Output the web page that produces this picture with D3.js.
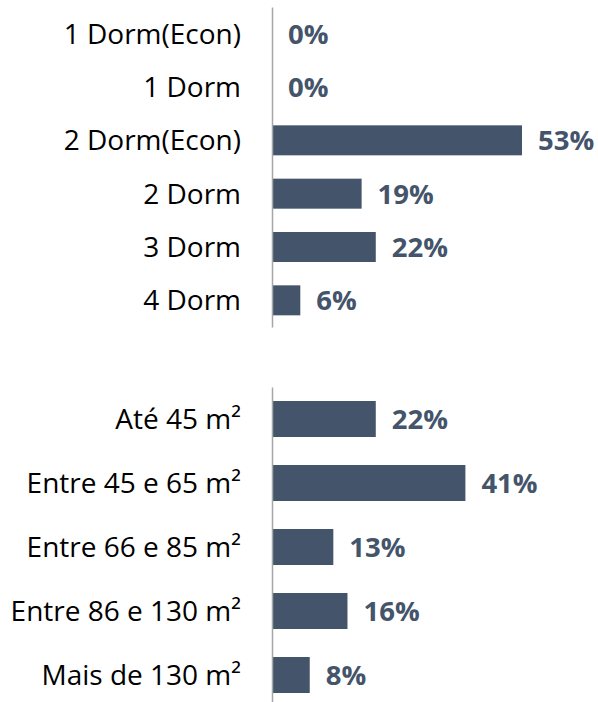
<!DOCTYPE html>
<html>
<head>
<meta charset="utf-8">
<script src="https://cdn.jsdelivr.net/npm/d3@7"></script>
<style>
  body { margin: 0; background: #fff; }
  svg { display: block; }
  text { font-family: 'Open Sans', sans-serif; }
</style>
</head>
<body>
<svg></svg>
<script>
// data
const dormCats = ['1 Dorm(Econ)', '1 Dorm', '2 Dorm(Econ)', '2 Dorm', '3 Dorm', '4 Dorm']
const dormVals = [0, 0, 53, 19, 22, 6]
const areaCats = ['Até 45 m²', 'Entre 45 e 65 m²', 'Entre 66 e 85 m²', 'Entre 86 e 130 m²', 'Mais de 130 m²']
const areaVals = [22, 41, 13, 16, 8]

const w = 598
const h = 702
const barColor = '#44546A'

const svg = d3.select('svg')
  .attr('width', w)
  .attr('height', h);

const axisX = 272;

// one % ~ 4.72px
const xScale = d3.scaleLinear()
  .domain([0, 53])
  .range([axisX, axisX + 250]);

const panel = (cats, vals, y0, y1) => {
  const yScale = d3.scaleBand()
    .domain(cats)
    .range([y0, y1])
    .paddingInner(0.4375)
    .paddingOuter(0.21875);

  const g = svg.append('g');

  g.selectAll('rect').data(cats)
    .enter().append('rect')
    .attr('x', xScale(0))
    .attr('y', d => yScale(d))
    .attr('width', (d, i) => xScale(vals[i]) - xScale(0))
    .attr('height', yScale.bandwidth())
    .attr('fill', barColor);

  // value labels
  g.selectAll('.val').data(cats)
    .enter().append('text')
    .attr('class', 'val')
    .attr('x', (d, i) => xScale(vals[i]) + 16)
    .attr('y', d => yScale(d) + yScale.bandwidth() / 2)
    .attr('dy', '0.36em')
    .attr('font-size', 27.5)
    .attr('font-weight', 'bold')
    .attr('fill', barColor)
    .text((d, i) => vals[i] + '%');

  // category axis
  const yAxis = d3.axisLeft(yScale).tickSize(0).tickPadding(31);
  const yAxisG = g.append('g')
    .attr('transform', `translate(${axisX}, 0)`)
    .call(yAxis);
  yAxisG.select('.domain')
    .attr('stroke', '#A6A6A6')
    .attr('stroke-width', 1.5);
  yAxisG.selectAll('text')
    .attr('font-size', 28)
    .attr('font-family', "'Open Sans', sans-serif")
    .attr('fill', '#000')
    .attr('dy', '0.36em');
  yAxisG.selectAll('.tick line').remove();
}

panel(dormCats, dormVals, 7, 327)
panel(areaCats, areaVals, 387, 707)
</script>
</body>
</html>
